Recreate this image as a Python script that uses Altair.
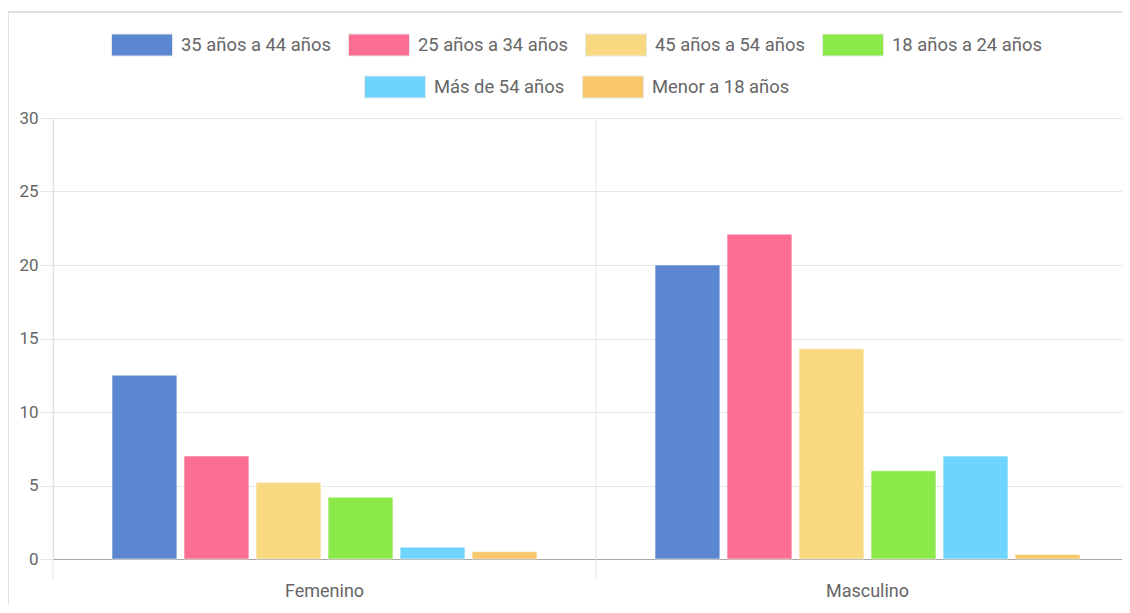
import altair as alt
import pandas as pd

generos = ["Femenino", "Masculino"]
grupos = ["35 años a 44 años", "25 años a 34 años", "45 años a 54 años",
          "18 años a 24 años", "Más de 54 años", "Menor a 18 años"]
femenino = [12.5, 7.0, 5.2, 4.2, 0.8, 0.5]
masculino = [20.0, 22.1, 14.3, 6.0, 7.0, 0.3]
colores = ["#5B87D0", "#FC6D94", "#F8D880", "#8BE94A", "#6ED3FD", "#F8C76A"]
y_ticks = [0, 5, 10, 15, 20, 25, 30]

rows = []
for g, vals in zip(generos, [femenino, masculino]):
    for grp, v in zip(grupos, vals):
        rows.append({"genero": g, "grupo": grp, "valor": v})
df = pd.DataFrame(rows)
df1 = df[df["grupo"].isin(grupos[:4])]
df2 = df[df["grupo"].isin(grupos[4:])]
gdf = pd.DataFrame({"genero": generos})

FONT = "Roboto"
W, H = 1069, 441
LEG_FS = 18.4

x_axis = alt.Axis(labelFontSize=18, labelColor="#666", labelFont=FONT, ticks=False,
                  labelPadding=23, domainColor="#a8a8a8", grid=False, labelAngle=0,
                  labelAlign="center", labelBaseline="top")
x_scale = alt.Scale(domain=generos, paddingInner=0, paddingOuter=0, range=[0, 1086])
x_enc = alt.X("genero:N", sort=generos, title=None, scale=x_scale, axis=x_axis)
xo_enc = alt.XOffset("grupo:N", sort=grupos,
                     scale=alt.Scale(domain=grupos, paddingInner=0.1, paddingOuter=0.82))
y_enc = alt.Y("valor:Q", title=None,
              scale=alt.Scale(domain=[0, 30], nice=False),
              axis=alt.Axis(values=y_ticks, labelFontSize=17, labelColor="#666", labelFont=FONT,
                            gridColor="#e6e6e6", tickColor="#e6e6e6", tickSize=13,
                            labelPadding=2, domain=False))

sym = "M-1,-0.36H1V0.36H-1Z"

def legend(x, y):
    return alt.Legend(title=None, orient="none", legendX=x, legendY=y, direction="horizontal",
                      symbolType=sym, symbolSize=3721, symbolStrokeColor="#e8e8e8",
                      symbolStrokeWidth=1, symbolOpacity=1, labelFontSize=LEG_FS,
                      labelColor="#666", labelFont=FONT, labelOffset=8, columnPadding=15,
                      padding=0)

bars1 = alt.Chart(df1).mark_bar(stroke="white", strokeOpacity=0.5, strokeWidth=1).encode(
    x=x_enc, xOffset=xo_enc, y=y_enc,
    color=alt.Color("grupo:N", sort=grupos[:4],
                    scale=alt.Scale(domain=grupos[:4], range=colores[:4]),
                    legend=legend(58, -104)),
)
bars2 = alt.Chart(df2).mark_bar(stroke="white", strokeOpacity=0.5, strokeWidth=1).encode(
    x=x_enc, xOffset=xo_enc, y=y_enc,
    color=alt.Color("grupo:N", sort=grupos[4:],
                    scale=alt.Scale(domain=grupos[4:], range=colores[4:]),
                    legend=legend(311, -62)),
)

vgrid = alt.Chart(gdf).mark_rule(color="#e6e6e6", strokeWidth=1).encode(
    x=alt.X("genero:N", sort=generos, bandPosition=0, axis=x_axis, title=None, scale=x_scale),
    y=alt.value(0), y2=alt.value(H + 20),
)

border_left = alt.Chart(gdf).mark_rule(color="#dcdcdc", strokeWidth=1.5).encode(
    x=alt.value(-45), y=alt.value(-106), y2=alt.value(H + 46),
)
border_top = alt.Chart(gdf).mark_rule(color="#dcdcdc", strokeWidth=1.5).encode(
    x=alt.value(-45), x2=alt.value(W), y=alt.value(-106),
)

chart = alt.layer(vgrid, bars1, bars2, border_left, border_top).resolve_scale(
    color="independent"
).properties(
    width=W, height=H,
    autosize=alt.AutoSizeParams(type="none"),
    padding={"left": 45, "top": 110, "right": 0, "bottom": 46},
).configure_view(strokeWidth=0).configure(font=FONT)

chart.save("out.html", embed_options={"renderer": "svg", "actions": False})
